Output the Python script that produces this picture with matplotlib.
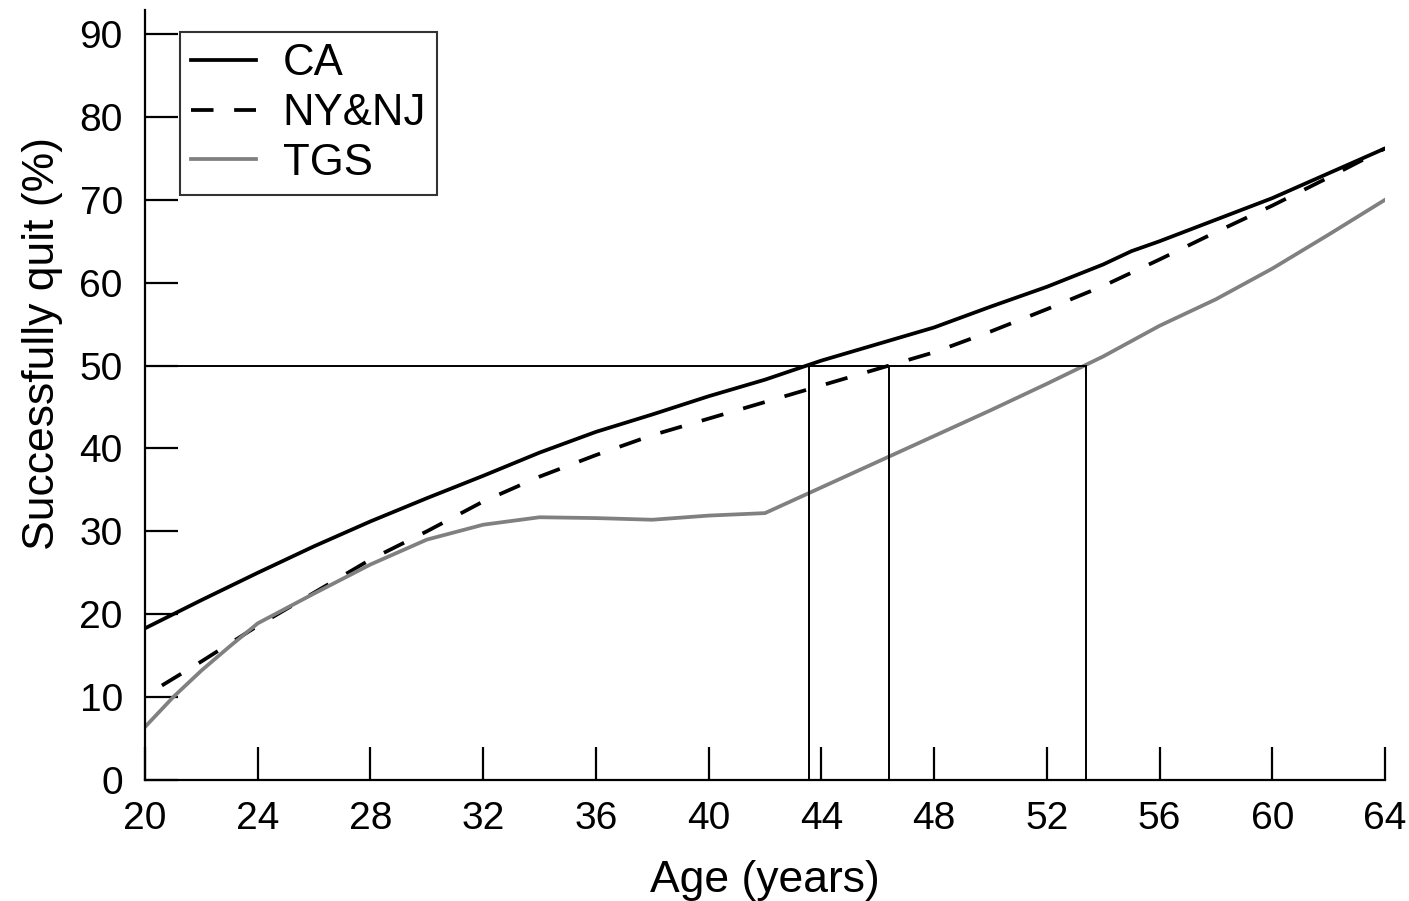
import matplotlib
matplotlib.use("Agg")
import matplotlib.pyplot as plt

plt.rcParams["font.family"] = ["Liberation Sans", "DejaVu Sans"]

# CA (black solid)
ca_age = [20, 22, 24, 26, 28, 30, 32, 34, 36, 38, 40, 42, 44, 46, 48, 50, 52, 54, 55, 56, 58, 60, 62, 64]
ca_quit = [18.3, 21.7, 25.0, 28.2, 31.2, 34.0, 36.7, 39.5, 42.0, 44.1, 46.3, 48.3, 50.6, 52.6, 54.6,
           57.1, 59.5, 62.2, 63.8, 65.0, 67.6, 70.2, 73.2, 76.2]

# NY&NJ (black dashed)
nynj_age = [20.6, 22, 24, 26, 28, 30, 32, 34, 36, 38, 40, 42, 44, 46, 48, 50, 52, 54, 56, 58, 60, 62, 64]
nynj_quit = [11.4, 14.3, 18.6, 22.6, 26.6, 30.0, 33.6, 36.6, 39.2, 41.6, 43.6, 45.6, 47.6, 49.6, 51.6,
             54.1, 56.8, 59.6, 62.8, 66.1, 69.3, 72.7, 76.2]

# TGS (gray)
tgs_age = [20, 21, 22, 23, 24, 26, 28, 30, 32, 34, 36, 38, 40, 42, 44, 46, 48, 50, 52, 54, 56, 58, 60, 62, 64]
tgs_quit = [6.4, 10.0, 13.2, 16.1, 18.9, 22.5, 26.0, 29.0, 30.8, 31.7, 31.6, 31.4, 31.9, 32.2, 35.3,
            38.4, 41.5, 44.6, 47.8, 51.1, 54.8, 58.0, 61.7, 65.8, 70.0]

# ages at which each curve reaches 50%
half_level = 50
half_ages = [43.55, 46.4, 53.4]

fig = plt.figure(figsize=(14.09, 9.01), dpi=100)
ax = fig.add_axes([145 / 1409, 121 / 901, 1240 / 1409, 770 / 901])

ax.plot(ca_age, ca_quit, color="black", lw=2.7, label="CA")
ax.plot(nynj_age, nynj_quit, color="black", lw=2.7, dashes=(6, 5.5), label="NY&NJ")
ax.plot(tgs_age, tgs_quit, color="#808080", lw=2.7, label="TGS")

# 50% reference lines
ax.plot([20, max(half_ages)], [half_level, half_level], color="black", lw=1.4)
for a in half_ages:
    ax.plot([a, a], [0, half_level], color="black", lw=1.4)

ax.set_xlim(20, 64)
ax.set_ylim(0, 92.9)
ax.set_xticks(range(20, 65, 4))
ax.set_yticks(range(0, 91, 10))
for s in ["top", "right"]:
    ax.spines[s].set_visible(False)
for s in ["left", "bottom"]:
    ax.spines[s].set_linewidth(1.6)
ax.tick_params(direction="in", length=24, width=1.6, labelsize=28)
ax.tick_params(axis="x", pad=15)
ax.tick_params(axis="y", pad=16)

ax.set_xlabel("Age (years)", fontsize=32, labelpad=17)
ax.set_ylabel("Successfully quit (%)", fontsize=32)
ax.yaxis.set_label_coords(-0.0665, 0.5675)

leg = ax.legend(loc="upper left", bbox_to_anchor=(0.028, 0.971), fontsize=31.5, frameon=True,
                fancybox=False, handlelength=1.5, handletextpad=0.6, labelspacing=0.2,
                borderpad=0.25, borderaxespad=0)
leg.get_frame().set_edgecolor("black")
leg.get_frame().set_linewidth(1.5)

fig.savefig("out.png", dpi=100)
